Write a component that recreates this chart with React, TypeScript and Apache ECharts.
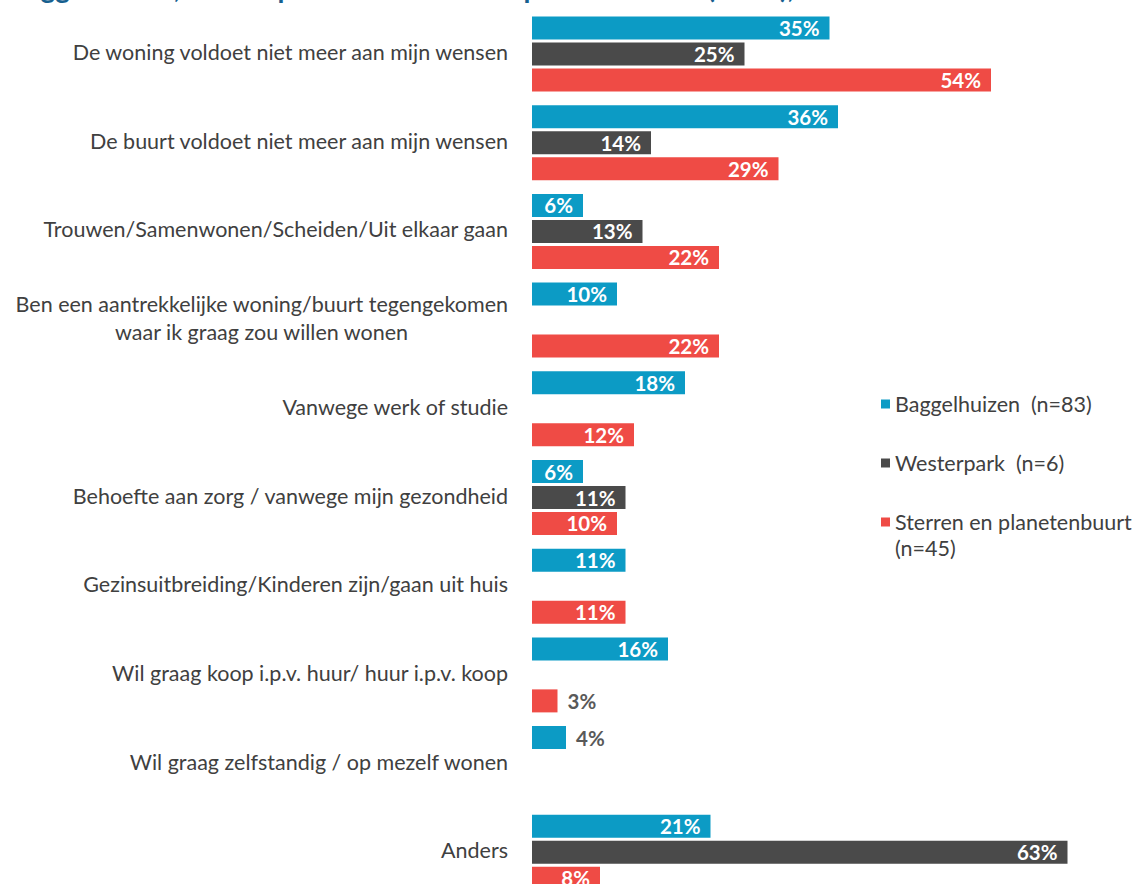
import React, { useEffect, useRef } from "react";
import * as echarts from "echarts";

const categories = [
  "De woning voldoet niet meer aan mijn wensen",
  "De buurt voldoet niet meer aan mijn wensen",
  "Trouwen/Samenwonen/Scheiden/Uit elkaar gaan",
  "Ben een aantrekkelijke woning/buurt tegengekomen\nwaar ik graag zou willen wonen",
  "Vanwege werk of studie",
  "Behoefte aan zorg / vanwege mijn gezondheid",
  "Gezinsuitbreiding/Kinderen zijn/gaan uit huis",
  "Wil graag koop i.p.v. huur/ huur i.p.v. koop",
  "Wil graag zelfstandig / op mezelf wonen",
  "Anders",
];

const seriesNames = [
  "Baggelhuizen  (n=83)",
  "Westerpark  (n=6)",
  "Sterren en planetenbuurt\n(n=45)",
];

const baggelhuizen: (number | null)[] = [35, 36, 6, 10, 18, 6, 11, 16, 4, 21];
const westerpark: (number | null)[] = [25, 14, 13, null, null, 11, null, null, null, 63];
const sterren: (number | null)[] = [54, 29, 22, 22, 12, 10, 11, 3, null, 8];

const colors = ["#0c9bc5", "#4a4a4a", "#ef4b45"];

const titleText = "Baggelhuizen, Westerpark en Sterren- en planetenbuurt (2018),";

const FONT = "Lato, 'Open Sans', sans-serif";
const LABEL_SIZE = 21.5;

function toData(values: (number | null)[]) {
  return values.map((v) => {
    if (v == null) return null;
    if (v < 5) {
      return {
        value: v,
        label: { position: "right", color: "#595959", distance: 10 },
      };
    }
    return v;
  });
}

export default function App() {
  const ref = useRef<HTMLDivElement>(null);

  useEffect(() => {
    document.body.style.margin = "0";
    document.body.style.overflow = "hidden";
    if (!ref.current) return;
    const chart = echarts.init(ref.current, undefined, { renderer: "svg" });

    const seriesData = [baggelhuizen, westerpark, sterren];

    const legendText = {
      color: "#404040",
      fontSize: LABEL_SIZE,
      lineHeight: 26,
      fontFamily: FONT,
    };

    const axisText = {
      fontSize: LABEL_SIZE,
      color: "#404040",
      lineHeight: 28,
      fontFamily: FONT,
    };

    chart.setOption({
      animation: false,
      backgroundColor: "#ffffff",
      textStyle: { fontFamily: FONT },
      graphic: [
        {
          type: "text",
          left: 8,
          top: -27,
          style: {
            text: titleText,
            fill: "#17608f",
            font: `bold 28px ${FONT}`,
          },
        },
      ],
      legend: [
        {
          orient: "vertical",
          left: 876,
          top: 386,
          icon: "rect",
          itemWidth: 9,
          itemHeight: 9,
          itemGap: 33,
          selectedMode: false,
          textStyle: legendText,
          data: [{ name: seriesNames[0] }, { name: seriesNames[1] }],
        },
        {
          orient: "vertical",
          left: 876,
          top: 478,
          icon: "rect",
          itemWidth: 9,
          itemHeight: 9,
          selectedMode: false,
          formatter: (name: string) =>
            name
              .split("\n")
              .map((s) => `{a|${s}}`)
              .join("\n"),
          textStyle: {
            ...legendText,
            padding: [26, 0, 0, 0],
            rich: {
              a: { ...legendText },
            },
          },
          data: [{ name: seriesNames[2] }],
        },
      ],
      grid: {
        left: 532,
        top: 9.65,
        width: 595,
        height: 887,
        containLabel: false,
      },
      xAxis: {
        type: "value",
        min: 0,
        max: 70,
        show: false,
      },
      yAxis: {
        type: "category",
        inverse: true,
        data: categories,
        axisLine: { show: false },
        axisTick: { show: false },
        axisLabel: {
          margin: 24,
          ...axisText,
          padding: [0, 0, 4, 0],
          formatter: (v: string) => {
            if (v.indexOf("\n") >= 0) {
              const [a, b] = v.split("\n");
              return `{a|${a}}\n{b|${b}}`;
            }
            return `{a|${v}}`;
          },
          rich: {
            a: { ...axisText },
            b: { ...axisText, align: "center" },
          },
        },
      },
      series: seriesData.map((vals, i) => ({
        name: seriesNames[i],
        type: "bar",
        data: toData(vals),
        barWidth: 23,
        barGap: "13%",
        itemStyle: { color: colors[i] },
        label: {
          show: true,
          position: "insideRight",
          distance: 10,
          formatter: "{c}%",
          color: "#ffffff",
          fontWeight: "bold",
          fontSize: 20.5,
          fontFamily: FONT,
        },
      })),
    });

    return () => chart.dispose();
  }, []);

  return <div ref={ref} style={{ width: 1137, height: 900 }} />;
}
